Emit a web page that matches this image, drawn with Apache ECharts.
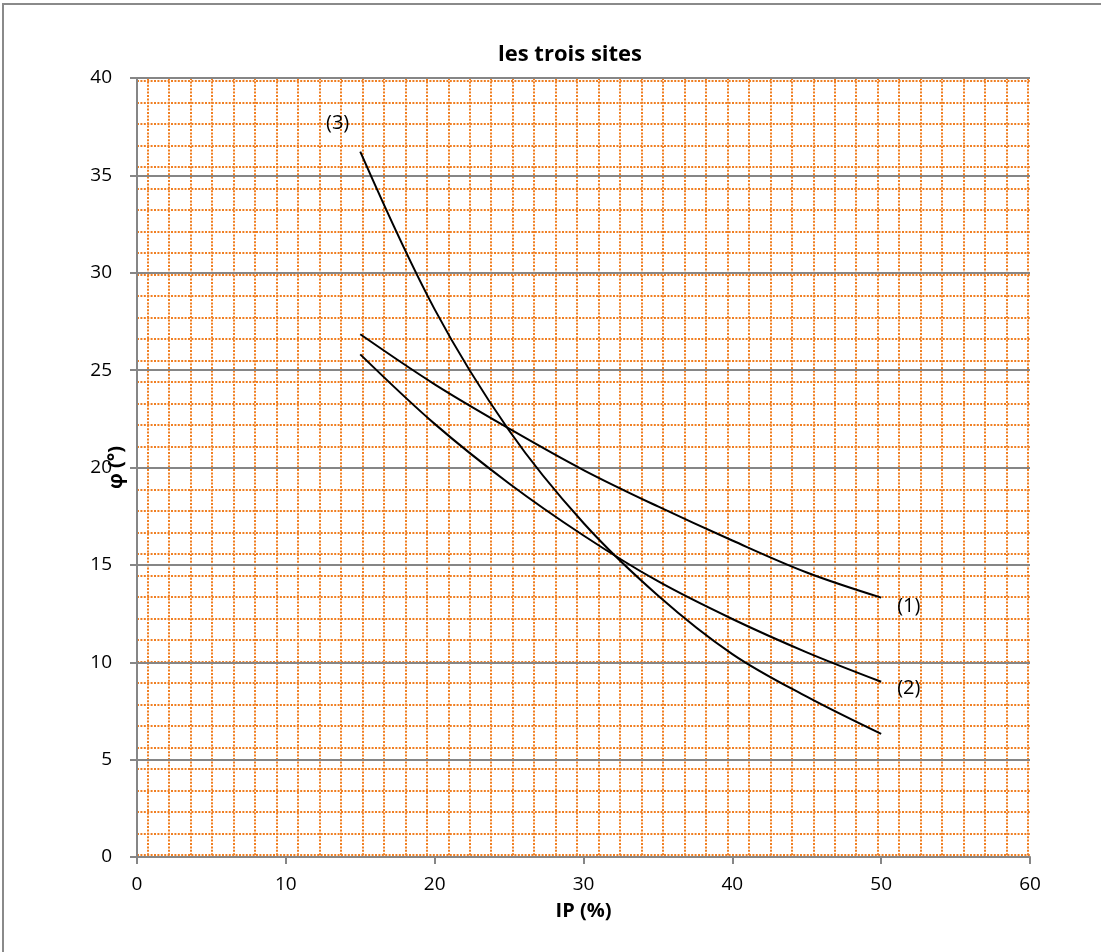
<!DOCTYPE html>
<html>
<head>
<meta charset="utf-8">
<script src="https://cdn.jsdelivr.net/npm/echarts@6/dist/echarts.min.js"></script>
<style>
  html, body { margin: 0; padding: 0; background: #fff; }
  #chart { width: 1101px; height: 952px; }
</style>
</head>
<body>
<div id="chart"></div>
<script>
// IP (%) positions where the curves were read
const ip = [15, 20, 25, 30, 35, 40, 45, 50];
// φ (°) for each site
const site1 = [26.84, 24.27, 22.0, 19.87, 18.0, 16.25, 14.61, 13.32];
const site2 = [25.81, 22.24, 19.18, 16.51, 14.16, 12.22, 10.51, 9.0];
const site3 = [36.22, 28.12, 21.9, 17.15, 13.43, 10.42, 8.23, 6.32];
const siteNames = ['(1)', '(2)', '(3)'];

const xTicks = { min: 0, max: 60, step: 10 };
const yTicks = { min: 0, max: 40, step: 5 };

const font = '"Open Sans", "Liberation Sans", sans-serif';
const orange = '#F07F22';
const gray = '#868686';

// end-of-curve labels: which point carries the label and where it sits
function buildData(values, name, labelIdx, labelOpt) {
    return values.map(function (v, i) {
        let item = { value: [ip[i], v] };
        if (i === labelIdx) {
            item.label = Object.assign({
                show: true,
                formatter: name,
                color: '#000',
                fontSize: 20,
                fontFamily: font
            }, labelOpt);
        }
        return item;
    });
}

function curve(values, name, labelIdx, labelOpt) {
    return {
        name: name,
        type: 'line',
        xAxisIndex: 0,
        yAxisIndex: 0,
        smooth: 0.35,
        symbol: 'circle',
        symbolSize: 0.01,
        showSymbol: true,
        itemStyle: { color: 'transparent' },
        lineStyle: { color: '#000', width: 2 },
        data: buildData(values, name, labelIdx, labelOpt),
        z: 3
    };
}

// hidden axis pairs used only for the orange dotted background pattern
const dotted = { color: orange, width: 2, type: [2, 1.4] };
const hiddenAxis = {
    axisLine: { show: false }, axisTick: { show: false },
    axisLabel: { show: false }, splitLine: { show: false }
};

const option = {
    animation: false,
    backgroundColor: '#fff',
    title: {
        text: 'les trois sites',
        left: 565,
        textAlign: 'center',
        top: 39,
        textStyle: { fontFamily: font, fontWeight: 'bold', fontSize: 22, color: '#000' }
    },
    graphic: [{
        type: 'rect',
        shape: { x: 3, y: 4, width: 1200, height: 1100 },
        style: { fill: 'none', stroke: '#8a8a8a', lineWidth: 2 },
        silent: true
    }],
    grid: [
        { left: 137, right: 71, top: 78, bottom: 95 },
        // horizontal orange lines
        { left: 137, right: 71, top: 81, bottom: 97 },
        // vertical orange lines
        { left: 147.7, right: 73, top: 78, bottom: 95 }
    ],
    xAxis: [
        {
            type: 'value', gridIndex: 0,
            min: xTicks.min, max: xTicks.max, interval: xTicks.step,
            name: 'IP (%)', nameLocation: 'middle', nameGap: 44,
            nameTextStyle: { fontFamily: font, fontWeight: 'bold', fontSize: 20, color: '#000' },
            axisLine: { lineStyle: { color: gray, width: 2 } },
            axisTick: { show: true, inside: false, length: 7, lineStyle: { color: gray, width: 2 } },
            axisLabel: { margin: 18, fontFamily: font, fontSize: 19, color: '#000' },
            splitLine: { show: false },
            z: 2
        },
        Object.assign({ type: 'value', gridIndex: 1, min: 0, max: 1 }, hiddenAxis),
        Object.assign({}, hiddenAxis, {
            type: 'value', gridIndex: 2, min: 0, max: 41, interval: 1,
            splitLine: { show: true, lineStyle: dotted }, z: 0
        })
    ],
    yAxis: [
        {
            type: 'value', gridIndex: 0,
            min: yTicks.min, max: yTicks.max, interval: yTicks.step,
            name: 'φ (°)', nameLocation: 'middle', nameGap: 11, nameRotate: 90,
            nameMoveOverlap: false,
            nameTextStyle: { fontFamily: font, fontWeight: 'bold', fontSize: 20, color: '#000' },
            axisLine: { show: true, lineStyle: { color: gray, width: 2 } },
            axisTick: { show: true, inside: false, length: 7, lineStyle: { color: gray, width: 2 } },
            axisLabel: { margin: 25, fontFamily: font, fontSize: 19, color: '#000' },
            splitLine: { show: true, lineStyle: { color: gray, width: 2 } },
            z: 2
        },
        Object.assign({}, hiddenAxis, {
            type: 'value', gridIndex: 1, min: 0, max: 36, interval: 1,
            splitLine: { show: true, lineStyle: dotted }, z: 0
        }),
        Object.assign({ type: 'value', gridIndex: 2, min: 0, max: 1 }, hiddenAxis)
    ],
    series: [
        curve(site1, siteNames[0], ip.length - 1, { position: 'right', offset: [11, 9] }),
        curve(site2, siteNames[1], ip.length - 1, { position: 'right', offset: [11, 7] }),
        curve(site3, siteNames[2], 0, { position: 'left', offset: [-6, -28] })
    ]
};

const chart = echarts.init(document.getElementById('chart'));
chart.setOption(option);
</script>
</body>
</html>
